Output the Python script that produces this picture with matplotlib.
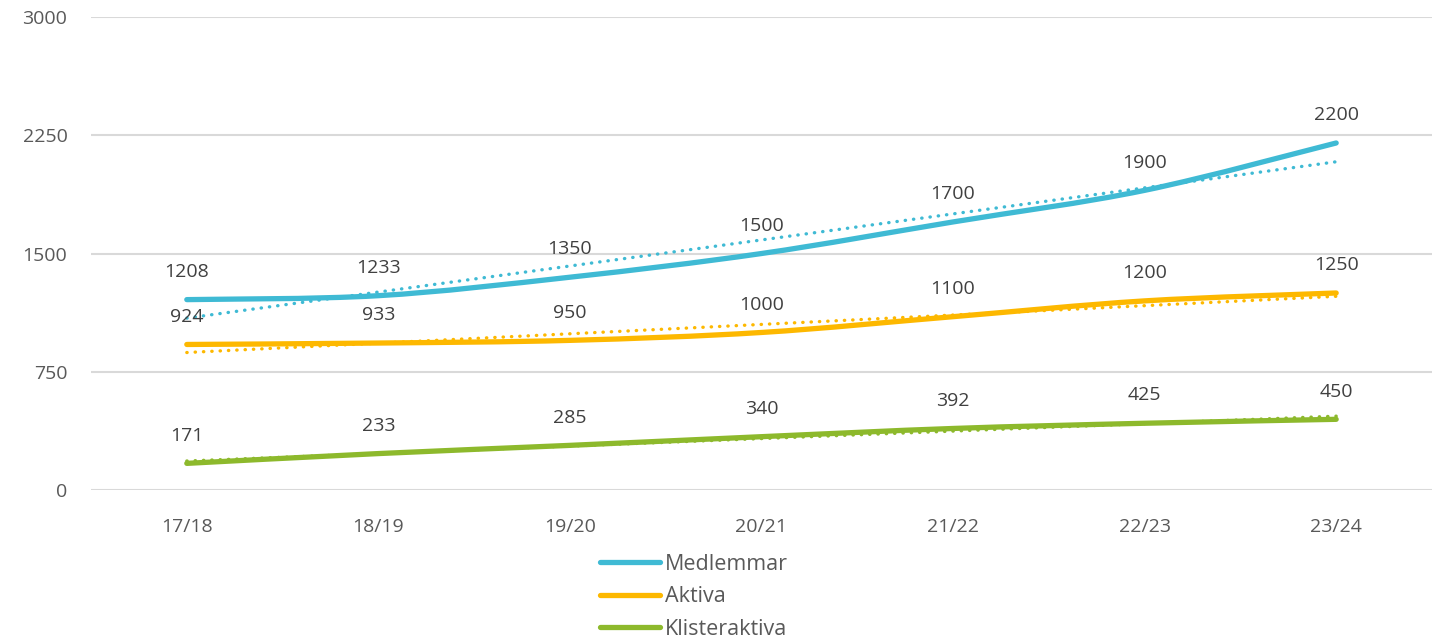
import numpy as np
import matplotlib
matplotlib.use("Agg")
import matplotlib.pyplot as plt
from matplotlib.path import Path
from matplotlib.patches import PathPatch
from matplotlib.lines import Line2D

plt.rcParams['font.family'] = ['Open Sans', 'DejaVu Sans']

# data
seasons = ['17/18', '18/19', '19/20', '20/21', '21/22', '22/23', '23/24']
medlemmar = [1208, 1233, 1350, 1500, 1700, 1900, 2200]
aktiva = [924, 933, 950, 1000, 1100, 1200, 1250]
klisteraktiva = [171, 233, 285, 340, 392, 425, 450]

# dotted trendlines, start and end value
trend_medlemmar = [1091, 2081]
trend_aktiva = [873, 1229]
trend_klister = [186, 470]

names = ['Medlemmar', 'Aktiva', 'Klisteraktiva']
colors = ['#3FBAD4', '#FDB800', '#8DB92C']
series = [medlemmar, aktiva, klisteraktiva]
trends = [trend_medlemmar, trend_aktiva, trend_klister]

fig = plt.figure(figsize=(14.38, 6.41), dpi=100)
ax = fig.add_axes([0.0633, 0.235, 0.9325, 0.739])

x = np.arange(len(seasons))


def smooth_path(xs, ys):
    # Excel style smoothed line: cubic bezier through the points
    pts = np.column_stack([xs, ys]).astype(float)
    verts = [pts[0]]
    codes = [Path.MOVETO]
    n = len(pts)
    for i in range(n - 1):
        p0 = pts[i - 1] if i > 0 else pts[i]
        p1 = pts[i]
        p2 = pts[i + 1]
        p3 = pts[i + 2] if i + 2 < n else pts[i + 1]
        c1 = p1 + (p2 - p0) / 6.0
        c2 = p2 - (p3 - p1) / 6.0
        verts += [c1, c2, p2]
        codes += [Path.CURVE4] * 3
    return Path(verts, codes)


for vals, tr, col in zip(series, trends, colors):
    ax.plot([x[0], x[-1]], tr, linestyle=(0, (0.1, 2.4)), color=col,
            lw=2.4, dash_capstyle='round', zorder=2)
    patch = PathPatch(smooth_path(x, vals), facecolor='none', edgecolor=col,
                      lw=3.8, capstyle='round', joinstyle='round', zorder=3)
    ax.add_patch(patch)
    for xi, v in zip(x, vals):
        ax.annotate(str(v), (xi, v), xytext=(0, 20), textcoords='offset points',
                    ha='center', va='center', fontsize=14, color='#404040', zorder=4)

ax.set_xlim(-0.5, len(seasons) - 0.5)
ax.set_ylim(0, 3000)
ax.set_yticks([0, 750, 1500, 2250, 3000])
ax.set_xticks(x)
ax.set_xticklabels(seasons)
ax.grid(axis='y', color='#D9D9D9', lw=1.5)
ax.set_axisbelow(True)
for s in ax.spines.values():
    s.set_visible(False)
ax.tick_params(axis='both', length=0, labelsize=14, labelcolor='#595959')
ax.tick_params(axis='y', pad=17)
ax.tick_params(axis='x', pad=20)

handles = [Line2D([0], [0], color=c, lw=3.8, solid_capstyle='round') for c in colors]
fig.legend(handles, names, loc='upper left', bbox_to_anchor=(0.417, 0.136),
           frameon=False, fontsize=15.5, labelcolor='#595959', handlelength=2.8,
           handletextpad=0.25, labelspacing=0.53, borderpad=0, borderaxespad=0)

fig.savefig('out.png', dpi=100)
